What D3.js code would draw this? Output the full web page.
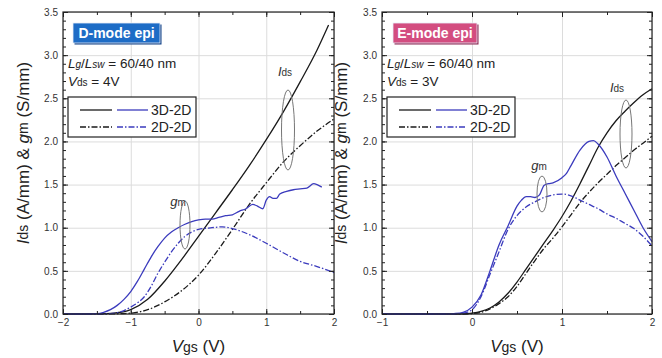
<!DOCTYPE html>
<html>
<head>
<meta charset="utf-8">
<script src="https://cdn.jsdelivr.net/npm/d3@7"></script>
<style>
  body { margin: 0; background: #fff; }
  svg text { font-family: "Liberation Sans", Arial, sans-serif; }
</style>
</head>
<body>
<svg id="chart" width="662" height="358"></svg>
<script>
// D-mode epi, Vds = 4V  ([Vgs, value])
const dModeIds3D = [[-2,0],[-1.75,0],[-1.5,0.002],[-1.25,0.01],[-1,0.05],[-0.75,0.17],[-0.5,0.38],[-0.25,0.63],
  [0,0.9],[0.25,1.17],[0.5,1.44],[0.75,1.72],[1,2.02],[1.25,2.34],[1.5,2.69],[1.75,3.06],[1.92,3.35]];
const dModeIds2D = [[-2,0],[-1.5,0],[-1.25,0.002],[-1,0.01],[-0.75,0.05],[-0.5,0.14],[-0.25,0.27],[0,0.45],
  [0.25,0.7],[0.5,0.98],[0.75,1.27],[1,1.52],[1.25,1.76],[1.5,1.95],[1.75,2.12],[2,2.26]];
const dModeGm3D = [[-2,0],[-1.75,0],[-1.5,0.005],[-1.4,0.02],[-1.3,0.05],[-1.2,0.1],[-1.1,0.17],[-1,0.26],
  [-0.9,0.38],[-0.8,0.52],[-0.7,0.66],[-0.6,0.78],[-0.5,0.88],[-0.4,0.95],[-0.3,1.0],[-0.2,1.04],[-0.1,1.07],
  [0,1.09],[0.1,1.1],[0.2,1.1],[0.3,1.12],[0.4,1.14],[0.5,1.15],[0.6,1.19],[0.7,1.22],[0.8,1.27],[0.87,1.25],
  [0.95,1.22],[1,1.32],[1.05,1.36],[1.1,1.34],[1.15,1.34],[1.2,1.39],[1.3,1.42],[1.4,1.44],[1.5,1.45],
  [1.6,1.46],[1.7,1.51],[1.75,1.5],[1.82,1.47]];
const dModeGm2D = [[-2,0],[-1.5,0],[-1.3,0.005],[-1.2,0.015],[-1.1,0.04],[-1,0.08],[-0.9,0.13],[-0.8,0.2],
  [-0.7,0.32],[-0.6,0.47],[-0.5,0.6],[-0.4,0.72],[-0.3,0.82],[-0.2,0.9],[-0.1,0.95],[0,0.98],[0.2,1.0],
  [0.35,1.01],[0.5,0.99],[0.75,0.92],[1,0.82],[1.25,0.71],[1.5,0.61],[1.75,0.55],[2,0.48]];

// E-mode epi, Vds = 3V
const eModeIds3D = [[-1,0],[-0.2,0],[-0.1,0.002],[0,0.01],[0.1,0.03],[0.2,0.07],[0.3,0.14],[0.4,0.24],
  [0.5,0.37],[0.6,0.52],[0.7,0.67],[0.8,0.82],[0.9,0.97],[1,1.13],[1.1,1.31],[1.2,1.51],[1.3,1.72],
  [1.4,1.93],[1.5,2.1],[1.6,2.24],[1.7,2.35],[1.8,2.45],[1.9,2.54],[2,2.61]];
const eModeIds2D = [[-1,0],[-0.1,0],[0,0.005],[0.1,0.02],[0.2,0.06],[0.3,0.12],[0.4,0.2],[0.5,0.32],
  [0.6,0.47],[0.7,0.62],[0.8,0.76],[0.9,0.88],[1,1.01],[1.1,1.15],[1.2,1.29],[1.3,1.41],[1.4,1.52],
  [1.5,1.62],[1.6,1.72],[1.7,1.81],[1.8,1.9],[1.9,1.98],[2,2.06]];
const eModeGm3D = [[-1,0],[-0.3,0],[-0.2,0.005],[-0.1,0.02],[0,0.08],[0.1,0.22],[0.2,0.5],[0.3,0.8],
  [0.4,1.02],[0.5,1.25],[0.55,1.32],[0.6,1.36],[0.65,1.36],[0.7,1.35],[0.75,1.38],[0.8,1.49],[0.85,1.51],
  [0.9,1.52],[1,1.58],[1.05,1.63],[1.1,1.72],[1.2,1.9],[1.3,2.0],[1.35,2.01],[1.4,1.97],[1.5,1.82],
  [1.6,1.6],[1.7,1.4],[1.8,1.2],[1.9,1.0],[2,0.84]];
const eModeGm2D = [[-1,0],[-0.2,0],[-0.1,0.01],[0,0.05],[0.1,0.2],[0.2,0.46],[0.3,0.72],[0.4,0.98],
  [0.5,1.14],[0.6,1.24],[0.7,1.3],[0.8,1.35],[0.9,1.38],[1,1.39],[1.1,1.37],[1.2,1.32],[1.3,1.27],
  [1.4,1.22],[1.5,1.16],[1.6,1.11],[1.7,1.05],[1.8,0.99],[1.9,0.9],[2,0.79]];

const dModeXTicks = [-2, -1, 0, 1, 2];
const eModeXTicks = [-1, 0, 1, 2];
const yTicks = [0, 0.5, 1, 1.5, 2, 2.5, 3, 3.5];
const legendLabels = ['3D-2D', '2D-2D'];

const BLUE = '#3b3bbd';
const DARK = '#1a1a1a';
const DASHDOT = '6,2,1.5,2';

const svg = d3.select('#chart');
const yScale = d3.scaleLinear().domain([0, 3.5]).range([314, 12]);

const panels = [
  {
    left: 63, right: 334, domain: [-2, 2], xTicks: dModeXTicks,
    title: 'D-mode epi', titleFill: '#1d6cc6', titleShade: '#0c3f85', titleBox: [73, 23, 87, 20],
    vds: '4V', yLabelX: 23,
    series: [
      {data: dModeIds3D, color: DARK, dash: null},
      {data: dModeIds2D, color: DARK, dash: DASHDOT},
      {data: dModeGm3D, color: BLUE, dash: null},
      {data: dModeGm2D, color: BLUE, dash: DASHDOT}
    ],
    idsEllipse: [288, 130, 6.5, 40], idsLabel: [285, 76],
    gmEllipse: [185, 225, 5, 24], gmLabel: [178, 206]
  },
  {
    left: 382, right: 652, domain: [-1, 2], xTicks: eModeXTicks,
    title: 'E-mode epi', titleFill: '#d34d80', titleShade: '#8c2350', titleBox: [393, 23, 84, 20],
    vds: '3V', yLabelX: 341,
    series: [
      {data: eModeIds3D, color: DARK, dash: null},
      {data: eModeIds2D, color: DARK, dash: DASHDOT},
      {data: eModeGm3D, color: BLUE, dash: null},
      {data: eModeGm2D, color: BLUE, dash: DASHDOT}
    ],
    idsEllipse: [626, 134, 6, 34], idsLabel: [617, 92],
    gmEllipse: [542, 194, 5, 18], gmLabel: [539, 170]
  }
];

function styleAxis(g, color) {
  g.select('.domain').remove();
  g.selectAll('line').attr('stroke', color);
}

panels.forEach(function(p) {
  const x = d3.scaleLinear().domain(p.domain).range([p.left, p.right]);
  const top = yScale(3.5), bottom = yScale(0);
  const minorX = d3.range(p.domain[0], p.domain[1] + 0.001, 0.5);
  const minorY = d3.range(0, 3.501, 0.1);

  // grid
  const grid = svg.append('g');
  grid.append('g').attr('transform', 'translate(0,' + bottom + ')')
    .call(d3.axisBottom(x).tickValues(p.xTicks).tickSize(-(bottom - top)).tickFormat(''))
    .call(g => styleAxis(g, '#dcdcdc'));
  grid.append('g').attr('transform', 'translate(' + p.left + ',0)')
    .call(d3.axisLeft(yScale).tickValues(yTicks).tickSize(-(p.right - p.left)).tickFormat(''))
    .call(g => styleAxis(g, '#dcdcdc'));

  // curves
  const line = d3.line()
    .x(function(d) { return x(d[0]); })
    .y(function(d) { return yScale(d[1]); })
    .curve(d3.curveMonotoneX);
  p.series.forEach(function(s) {
    svg.append('path')
      .datum(s.data)
      .attr('fill', 'none')
      .attr('stroke', s.color)
      .attr('stroke-width', 1.3)
      .attr('stroke-dasharray', s.dash)
      .attr('d', line);
  });

  // ticks (inward, all four sides)
  const axes = svg.append('g').attr('font-size', 13);
  axes.append('g').attr('transform', 'translate(0,' + bottom + ')')
    .call(d3.axisBottom(x).tickValues(p.xTicks).tickSizeInner(-5).tickSizeOuter(0).tickPadding(5)
      .tickFormat(d3.format('d')));
  axes.append('g').attr('transform', 'translate(0,' + bottom + ')')
    .call(d3.axisBottom(x).tickValues(minorX).tickSize(-3).tickFormat(''));
  axes.append('g').attr('transform', 'translate(0,' + top + ')')
    .call(d3.axisTop(x).tickValues(p.xTicks).tickSize(-5).tickFormat(''));
  axes.append('g').attr('transform', 'translate(0,' + top + ')')
    .call(d3.axisTop(x).tickValues(minorX).tickSize(-3).tickFormat(''));
  axes.append('g').attr('transform', 'translate(' + p.left + ',0)')
    .call(d3.axisLeft(yScale).tickValues(yTicks).tickSizeInner(-5).tickSizeOuter(0).tickPadding(5)
      .tickFormat(d3.format('.1f')));
  axes.append('g').attr('transform', 'translate(' + p.left + ',0)')
    .call(d3.axisLeft(yScale).tickValues(minorY).tickSize(-3).tickFormat(''));
  axes.append('g').attr('transform', 'translate(' + p.right + ',0)')
    .call(d3.axisRight(yScale).tickValues(yTicks).tickSize(-5).tickFormat(''));
  axes.append('g').attr('transform', 'translate(' + p.right + ',0)')
    .call(d3.axisRight(yScale).tickValues(minorY).tickSize(-3).tickFormat(''));
  axes.selectAll('.domain').remove();
  axes.selectAll('line').attr('stroke', '#222');
  axes.selectAll('text').attr('fill', '#333').attr('font-family', '"Liberation Sans", Arial, sans-serif');

  // frame
  svg.append('rect')
    .attr('x', p.left).attr('y', top)
    .attr('width', p.right - p.left).attr('height', bottom - top)
    .attr('fill', 'none').attr('stroke', '#222').attr('stroke-width', 1.2);

  // title badge
  const tb = p.titleBox;
  svg.append('rect').attr('x', tb[0] + 1.5).attr('y', tb[1] + 1.5)
    .attr('width', tb[2]).attr('height', tb[3]).attr('fill', p.titleShade);
  svg.append('rect').attr('x', tb[0]).attr('y', tb[1])
    .attr('width', tb[2]).attr('height', tb[3]).attr('fill', p.titleFill)
    .attr('stroke', '#e8eef8').attr('stroke-width', 0.8);
  svg.append('text').attr('x', tb[0] + tb[2] / 2).attr('y', tb[1] + 15)
    .attr('text-anchor', 'middle').attr('fill', '#fff').attr('font-weight', 'bold')
    .attr('font-size', 14).text(p.title);

  // condition text
  const cond = svg.append('g').attr('font-size', 13.5).attr('fill', '#222');
  const t1 = cond.append('text').attr('x', p.left + 5).attr('y', 68);
  t1.append('tspan').attr('font-style', 'italic').text('L');
  t1.append('tspan').attr('font-style', 'italic').attr('font-size', 10).text('g');
  t1.append('tspan').text('/');
  t1.append('tspan').attr('font-style', 'italic').text('L');
  t1.append('tspan').attr('font-style', 'italic').attr('font-size', 10).text('sw');
  t1.append('tspan').text(' = 60/40 nm');
  const t2 = cond.append('text').attr('x', p.left + 5).attr('y', 86);
  t2.append('tspan').attr('font-style', 'italic').text('V');
  t2.append('tspan').attr('font-size', 10).text('ds');
  t2.append('tspan').text(' = ' + p.vds);

  // legend
  const lg = svg.append('g').attr('transform', 'translate(' + (p.left + 5) + ',97)');
  lg.append('rect').attr('width', 128).attr('height', 40)
    .attr('fill', '#fff').attr('stroke', '#222').attr('stroke-width', 1.2);
  legendLabels.forEach(function(lab, i) {
    const yy = 13 + i * 17;
    const dash = i === 0 ? null : DASHDOT;
    lg.append('line').attr('x1', 12).attr('x2', 44).attr('y1', yy).attr('y2', yy)
      .attr('stroke', DARK).attr('stroke-width', 1.3).attr('stroke-dasharray', dash);
    lg.append('line').attr('x1', 49).attr('x2', 80).attr('y1', yy).attr('y2', yy)
      .attr('stroke', BLUE).attr('stroke-width', 1.3).attr('stroke-dasharray', dash);
    lg.append('text').attr('x', 83).attr('y', yy + 5).attr('font-size', 14)
      .attr('fill', '#222').text(lab);
  });

  // annotation ellipses
  [p.idsEllipse, p.gmEllipse].forEach(function(e) {
    svg.append('ellipse').attr('cx', e[0]).attr('cy', e[1]).attr('rx', e[2]).attr('ry', e[3])
      .attr('fill', 'none').attr('stroke', '#777').attr('stroke-width', 1);
  });
  const il = svg.append('text').attr('x', p.idsLabel[0]).attr('y', p.idsLabel[1])
    .attr('text-anchor', 'middle').attr('font-size', 13).attr('fill', '#333');
  il.append('tspan').attr('font-style', 'italic').text('I');
  il.append('tspan').attr('font-size', 10).text('ds');
  const gl = svg.append('text').attr('x', p.gmLabel[0]).attr('y', p.gmLabel[1])
    .attr('text-anchor', 'middle').attr('font-size', 13).attr('fill', '#333');
  gl.append('tspan').attr('font-style', 'italic').text('g');
  gl.append('tspan').attr('font-size', 10).text('m');

  // axis titles
  const xl = svg.append('text').attr('x', (p.left + p.right) / 2).attr('y', 352)
    .attr('text-anchor', 'middle').attr('font-size', 17).attr('fill', '#222');
  xl.append('tspan').attr('font-style', 'italic').text('V');
  xl.append('tspan').attr('font-size', 14).text('gs');
  xl.append('tspan').text(' (V)');

  const yl = svg.append('text')
    .attr('transform', 'translate(' + p.yLabelX + ',' + 153 + ') rotate(-90)')
    .attr('text-anchor', 'middle').attr('dominant-baseline', 'central')
    .attr('font-size', 17).attr('fill', '#222');
  yl.append('tspan').attr('font-style', 'italic').text('I');
  yl.append('tspan').attr('font-size', 14).text('ds');
  yl.append('tspan').text(' (A/mm) & ');
  yl.append('tspan').attr('font-style', 'italic').text('g');
  yl.append('tspan').attr('font-size', 14).text('m');
  yl.append('tspan').text(' (S/mm)');
});
</script>
</body>
</html>
